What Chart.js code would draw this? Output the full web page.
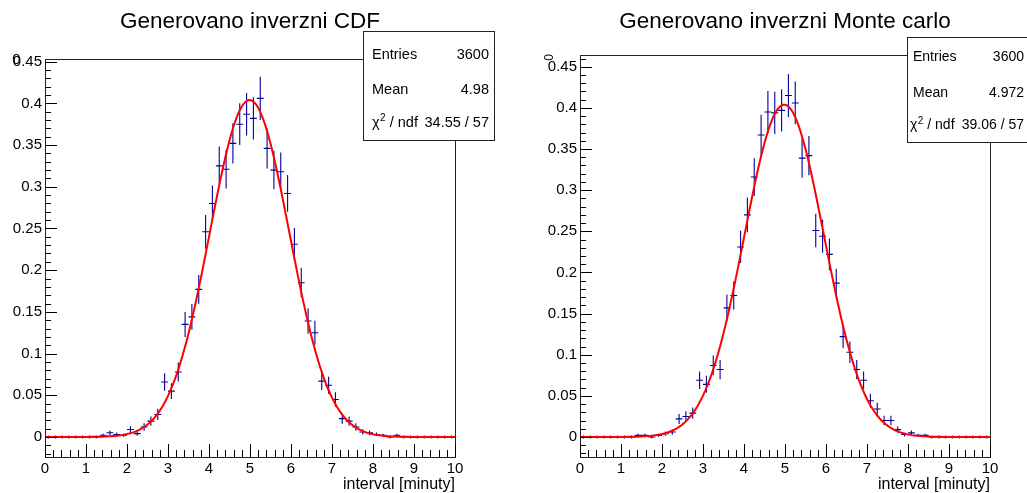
<!DOCTYPE html>
<html>
<head>
<meta charset="utf-8">
<script src="https://cdn.jsdelivr.net/npm/chart.js@4.4.1/dist/chart.umd.min.js"></script>
<style>
  html, body { margin: 0; padding: 0; background: #fff; }
  #wrap { position: relative; width: 1027px; height: 493px; }
  canvas { position: absolute; top: 0; }
</style>
</head>
<body>
<div id="wrap">
  <canvas id="chart-cdf" width="513" height="493" style="left:0"></canvas>
  <canvas id="chart-mc" width="514" height="493" style="left:513px"></canvas>
</div>
<script>
// histogram: 60 bins over 0..10 minutes, normalised (counts / (entries * bin width))
const X_MIN = 0;
const X_MAX = 10;
const ENTRIES = 3600;
const BIN_CENTERS = [
  0.083, 0.250, 0.417, 0.583, 0.750, 0.917, 1.083, 1.250, 1.417, 1.583,
  1.750, 1.917, 2.083, 2.250, 2.417, 2.583, 2.750, 2.917, 3.083, 3.250,
  3.417, 3.583, 3.750, 3.917, 4.083, 4.250, 4.417, 4.583, 4.750, 4.917,
  5.083, 5.250, 5.417, 5.583, 5.750, 5.917, 6.083, 6.250, 6.417, 6.583,
  6.750, 6.917, 7.083, 7.250, 7.417, 7.583, 7.750, 7.917, 8.083, 8.250,
  8.417, 8.583, 8.750, 8.917, 9.083, 9.250, 9.417, 9.583, 9.750, 9.917
];
const BIN_WIDTH = 1 / 6;
const X_TICKS = [0, 1, 2, 3, 4, 5, 6, 7, 8, 9, 10];
const Y_TICKS = [0, 0.05, 0.1, 0.15, 0.2, 0.25, 0.3, 0.35, 0.4, 0.45];

const CDF_VALUES = [
  0, 0, 0, 0, 0, 0, 0, 0, 0.002, 0.005,
  0.003, 0.002, 0.009, 0.004, 0.012, 0.019, 0.027, 0.066, 0.055, 0.078,
  0.135, 0.144, 0.177, 0.246, 0.280, 0.325, 0.321, 0.352, 0.375, 0.387,
  0.382, 0.406, 0.346, 0.320, 0.318, 0.292, 0.231, 0.185, 0.139, 0.125,
  0.067, 0.062, 0.045, 0.022, 0.019, 0.012, 0.006, 0.005, 0.003, 0.002,
  0, 0.002, 0, 0, 0, 0, 0, 0, 0, 0
];
const MC_VALUES = [
  0, 0, 0, 0, 0, 0, 0, 0, 0.002, 0.002,
  0, 0.002, 0.004, 0.006, 0.022, 0.025, 0.029, 0.069, 0.064, 0.087,
  0.082, 0.157, 0.172, 0.231, 0.270, 0.316, 0.367, 0.395, 0.394, 0.397,
  0.415, 0.406, 0.339, 0.342, 0.251, 0.244, 0.222, 0.187, 0.122, 0.103,
  0.082, 0.069, 0.044, 0.034, 0.020, 0.020, 0.009, 0.003, 0.005, 0.002,
  0.002, 0, 0, 0, 0, 0, 0, 0, 0, 0
];

// gaus fit parameters: constant, mean, sigma
const CDF_FIT = [0.404, 4.99, 0.97];
const MC_FIT = [0.404, 4.98, 0.97];

const CDF_STATS = [['Entries', '3600'], ['Mean', '4.98'], ['chi', '34.55 / 57']];
const MC_STATS = [['Entries', '3600'], ['Mean', '4.972'], ['chi', '39.06 / 57']];

const COLORS = {
    hist: '#000099',
    fit: '#ff0000',
    frame: '#222',
    text: '#000'
};
const FONT = "'Liberation Sans', Arial, Helvetica, sans-serif";

const gaus = (x, p) => p[0] * Math.exp(-0.5 * Math.pow((x - p[1]) / p[2], 2));

// "χ² / ndf" with a real superscript
function drawChiLabel(ctx, x, y, size) {
    ctx.textAlign = 'left';
    ctx.font = `${size}px ${FONT}`;
    ctx.fillText('χ', x, y);
    let cx = x + ctx.measureText('χ').width;
    ctx.font = `${Math.round(size * 0.68)}px ${FONT}`;
    ctx.fillText('2', cx + 0.5, y - size * 0.3);
    cx += ctx.measureText('2').width + 0.5;
    ctx.font = `${size}px ${FONT}`;
    ctx.fillText(' / ndf', cx, y);
}

// ROOT-like pad: frame, inner ticks, title, stats box, error crosses
function padPlugin(cfg) {
    return {
        id: 'rootPad',
        beforeDatasetsDraw(chart) {
            const ctx = chart.ctx;
            const xs = chart.scales.x, ys = chart.scales.y;
            const pts = chart.data.datasets[1].data;
            const a = chart.chartArea;
            ctx.save();
            ctx.beginPath();
            ctx.rect(a.left, a.top, a.right - a.left, a.bottom - a.top);
            ctx.clip();
            ctx.strokeStyle = COLORS.hist;
            ctx.lineWidth = 1.1;
            ctx.beginPath();
            pts.forEach(p => {
                const cx = xs.getPixelForValue(p.x);
                const cy = ys.getPixelForValue(p.y);
                const x0 = xs.getPixelForValue(p.x - BIN_WIDTH / 2);
                const x1 = xs.getPixelForValue(p.x + BIN_WIDTH / 2);
                let yTop = ys.getPixelForValue(p.y + p.err);
                let yBot = ys.getPixelForValue(p.y - p.err);
                if (yBot - yTop < 3) { yTop = cy - 1.5; yBot = cy + 1.5; }
                ctx.moveTo(x0, cy); ctx.lineTo(x1, cy);
                ctx.moveTo(cx, yTop); ctx.lineTo(cx, yBot);
            });
            ctx.stroke();
            ctx.restore();
        },
        afterDraw(chart) {
            const ctx = chart.ctx;
            const xs = chart.scales.x, ys = chart.scales.y;
            const { left, right, top, bottom } = chart.chartArea;
            ctx.save();
            ctx.strokeStyle = COLORS.frame;
            ctx.lineWidth = 1;
            ctx.strokeRect(left + 0.5, top + 0.5, right - left, bottom - top);

            // ticks drawn inside the frame, left and bottom only
            ctx.strokeStyle = '#000';
            ctx.beginPath();
            for (let k = Math.ceil(ys.min * 100); k <= Math.floor(ys.max * 100); k++) {
                const y = Math.round(ys.getPixelForValue(k / 100)) + 0.5;
                const len = k % 5 === 0 ? 12 : 6;
                ctx.moveTo(left, y); ctx.lineTo(left + len, y);
            }
            for (let k = 0; k <= 50; k++) {
                const x = Math.round(xs.getPixelForValue(k / 5)) + 0.5;
                const len = k % 5 === 0 ? 13 : 7;
                ctx.moveTo(x, bottom); ctx.lineTo(x, bottom - len);
            }
            ctx.stroke();

            ctx.fillStyle = COLORS.text;
            // title
            ctx.font = `22.5px ${FONT}`;
            ctx.textAlign = 'center';
            ctx.textBaseline = 'middle';
            ctx.fillText(cfg.title, cfg.titleX, 22);

            // x axis title
            ctx.font = `16px ${FONT}`;
            ctx.textAlign = 'right';
            ctx.fillText('interval [minuty]', right, 485);

            // stray y-axis label glyph
            const g = cfg.glyph;
            ctx.save();
            ctx.translate(g.x, g.y);
            if (g.rotated) ctx.rotate(-Math.PI / 2);
            ctx.font = `${g.size}px ${FONT}`;
            ctx.textAlign = 'center';
            ctx.fillText('0', 0, 0);
            ctx.restore();

            // stats box
            const b = cfg.box;
            ctx.fillStyle = '#fff';
            ctx.fillRect(b.x, b.y, b.w, b.h);
            ctx.strokeStyle = COLORS.frame;
            ctx.strokeRect(b.x + 0.5, b.y + 0.5, b.w, b.h);
            ctx.fillStyle = COLORS.text;
            cfg.stats.forEach((row, i) => {
                const y = b.rows[i];
                if (row[0] === 'chi') {
                    drawChiLabel(ctx, b.cx, y, b.font);
                } else {
                    ctx.font = `${b.font}px ${FONT}`;
                    ctx.textAlign = 'left';
                    ctx.fillText(row[0], b.tx, y);
                }
                ctx.font = `${b.font}px ${FONT}`;
                ctx.textAlign = 'right';
                ctx.fillText(row[1], b.vx, y);
            });
            ctx.restore();
        }
    };
}

function makeChart(id, values, fit, cfg) {
    const pts = BIN_CENTERS.map((x, i) => ({
        x: x,
        y: values[i],
        err: Math.sqrt(values[i] / (ENTRIES * BIN_WIDTH))
    }));
    const curve = [];
    for (let k = 0; k <= 200; k++) {
        const x = X_MIN + (X_MAX - X_MIN) * k / 200;
        curve.push({ x: x, y: gaus(x, fit) });
    }
    const tickFont = { family: FONT, size: 15 };

    new Chart(document.getElementById(id), {
        type: 'scatter',
        data: {
            datasets: [
                { data: curve, showLine: true, borderColor: COLORS.fit, borderWidth: 2, pointRadius: 0, tension: 0, order: 0 },
                { data: pts, showLine: false, pointRadius: 0, order: 1 }
            ]
        },
        options: {
            responsive: false,
            animation: false,
            events: [],
            layout: { padding: { left: cfg.padLeft, right: cfg.padRight, top: cfg.padTop, bottom: 0 } },
            plugins: { legend: { display: false }, tooltip: { enabled: false } },
            scales: {
                x: {
                    type: 'linear', min: X_MIN, max: X_MAX,
                    grid: { display: false, drawTicks: false },
                    border: { display: false },
                    afterBuildTicks: s => { s.ticks = X_TICKS.map(v => ({ value: v })); },
                    afterFit: s => { s.height = 36; },
                    ticks: { font: tickFont, color: COLORS.text, padding: 3, maxRotation: 0, autoSkip: false, callback: v => String(v) }
                },
                y: {
                    type: 'linear', min: cfg.yMin, max: cfg.yMax,
                    grid: { display: false, drawTicks: false },
                    border: { display: false },
                    afterBuildTicks: s => { s.ticks = Y_TICKS.map(v => ({ value: v })); },
                    afterFit: s => { s.width = 45; },
                    ticks: { font: tickFont, color: COLORS.text, padding: 3, autoSkip: false, callback: v => String(Math.round(v * 100) / 100) }
                }
            }
        },
        plugins: [padPlugin(cfg)]
    });
}

makeChart('chart-cdf', CDF_VALUES, CDF_FIT, {
    title: 'Generovano inverzni CDF', titleX: 250,
    padLeft: 0, padRight: 58, padTop: 59,
    yMin: -0.024, yMax: 0.4532,
    glyph: { x: 16.5, y: 60, size: 15, rotated: false },
    stats: CDF_STATS,
    box: { x: 363, y: 31, w: 131, h: 109, rows: [55, 90, 123], font: 14.5, tx: 372, cx: 372, vx: 489 }
});

makeChart('chart-mc', MC_VALUES, MC_FIT, {
    title: 'Generovano inverzni Monte carlo', titleX: 272,
    padLeft: 22, padRight: 37, padTop: 55,
    yMin: -0.0243, yMax: 0.4643,
    glyph: { x: 37, y: 57.5, size: 12, rotated: true },
    stats: MC_STATS,
    box: { x: 394, y: 37, w: 125, h: 105, rows: [57, 93, 125], font: 14, tx: 400, cx: 397, vx: 511 }
});
</script>
</body>
</html>
